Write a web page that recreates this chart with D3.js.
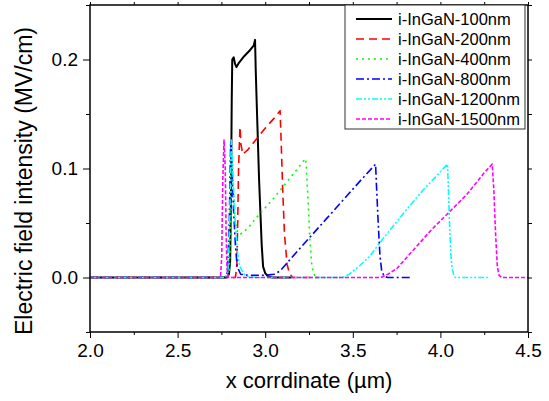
<!DOCTYPE html>
<html>
<head>
<meta charset="utf-8">
<script src="https://cdn.jsdelivr.net/npm/d3@7"></script>
<style>
    body { margin: 0; background: #fff; }
    text { font-family: "Liberation Sans", Arial, sans-serif; }
</style>
</head>
<body>
<div id="chart"></div>
<script>
// Series data, [x (um), E (MV/cm)]
const seriesNames = [
    "i-InGaN-100nm", "i-InGaN-200nm", "i-InGaN-400nm",
    "i-InGaN-800nm", "i-InGaN-1200nm", "i-InGaN-1500nm"
];

const e100 = [
    [2.0, 0], [2.78, 0], [2.793, 0.003], [2.8, 0.015], [2.805, 0.08], [2.809, 0.163],
    [2.812, 0.2], [2.82, 0.202], [2.828, 0.196], [2.836, 0.193], [2.85, 0.197],
    [2.88, 0.203], [2.91, 0.208], [2.935, 0.213], [2.942, 0.218], [2.946, 0.19],
    [2.951, 0.163], [2.965, 0.09], [2.98, 0.03], [2.988, 0.01], [3.0, 0.004],
    [3.016, 0.001], [3.04, 0], [3.15, 0]
];
const e200 = [
    [2.0, 0], [2.83, 0], [2.838, 0.01], [2.843, 0.05], [2.848, 0.1], [2.856, 0.138],
    [2.862, 0.122], [2.872, 0.113], [2.9, 0.117], [2.95, 0.127], [3.0, 0.137],
    [3.05, 0.146], [3.085, 0.153], [3.09, 0.13], [3.1, 0.08], [3.11, 0.04],
    [3.125, 0.012], [3.14, 0.003], [3.16, 0], [3.3, 0]
];
const e400 = [
    [2.0, 0], [2.78, 0], [2.795, 0.005], [2.803, 0.05], [2.81, 0.11], [2.815, 0.09],
    [2.822, 0.07], [2.83, 0.05], [2.845, 0.04], [2.86, 0.04], [2.9, 0.045],
    [2.95, 0.055], [3.0, 0.064], [3.05, 0.073], [3.1, 0.083], [3.15, 0.093],
    [3.2, 0.103], [3.23, 0.109], [3.235, 0.1], [3.245, 0.07], [3.255, 0.035],
    [3.265, 0.013], [3.275, 0.004], [3.29, 0], [3.45, 0]
];
const e800 = [
    [2.0, 0], [2.77, 0], [2.785, 0.005], [2.795, 0.05], [2.803, 0.125], [2.81, 0.1],
    [2.82, 0.06], [2.83, 0.03], [2.84, 0.01], [2.86, 0.003], [2.9, 0.002], [3.0, 0.002],
    [3.05, 0.003], [3.085, 0.006], [3.15, 0.018], [3.25, 0.036], [3.35, 0.054],
    [3.45, 0.072], [3.55, 0.09], [3.63, 0.104], [3.635, 0.085], [3.645, 0.05],
    [3.655, 0.02], [3.665, 0.006], [3.68, 0.001], [3.7, 0], [3.84, 0]
];
const e1200 = [
    [2.0, 0], [2.77, 0], [2.787, 0.005], [2.797, 0.05], [2.806, 0.126], [2.815, 0.1],
    [2.825, 0.06], [2.84, 0.025], [2.855, 0.01], [2.88, 0.003], [2.9, 0.001], [2.95, 0],
    [3.44, 0], [3.48, 0.003], [3.54, 0.011], [3.6, 0.02], [3.65, 0.031], [3.7, 0.041],
    [3.8, 0.061], [3.9, 0.08], [4.0, 0.097], [4.04, 0.104], [4.045, 0.085],
    [4.052, 0.05], [4.06, 0.02], [4.066, 0.01], [4.075, 0.003], [4.085, 0], [4.28, 0]
];
const e1500 = [
    [2.0, 0], [2.745, 0], [2.752, 0.02], [2.758, 0.09], [2.765, 0.126], [2.772, 0.1],
    [2.777, 0.04], [2.782, 0.008], [2.79, 0], [3.66, 0], [3.7, 0.003], [3.75, 0.008],
    [3.8, 0.017], [3.85, 0.026], [3.9, 0.035], [3.95, 0.044], [4.0, 0.052],
    [4.05, 0.06], [4.1, 0.068], [4.15, 0.076], [4.2, 0.086], [4.25, 0.096],
    [4.296, 0.104], [4.305, 0.08], [4.315, 0.04], [4.325, 0.01], [4.335, 0.002],
    [4.35, 0], [4.5, 0]
];

const xTicks = [2.0, 2.5, 3.0, 3.5, 4.0, 4.5];
const yTicks = [0.0, 0.1, 0.2];

// Styles for each series (colour + dash)
const colors = ["#000000", "#ff0000", "#00ff00", "#0000ff", "#00ffff", "#ff00ff"];
const dashes = ["none", "8,5", "2,4", "8,3,2,3", "6,2,2,2,2,2", "4,2"];
const allSeries = [e100, e200, e400, e800, e1200, e1500];

// Plot area
const width = 549, height = 401;
const margin = { top: 5, right: 21, bottom: 69, left: 90 };
const plotW = width - margin.left - margin.right;
const plotH = height - margin.top - margin.bottom;

const svg = d3.select("#chart")
    .append("svg")
    .attr("width", width)
    .attr("height", height);

const x = d3.scaleLinear().domain([2.0, 4.5]).range([0, plotW]);
const y = d3.scaleLinear().domain([-0.05, 0.25]).range([plotH, 0]);

const g = svg.append("g")
    .attr("transform", `translate(${margin.left},${margin.top})`);

// Clip so nothing spills out of the frame
g.append("clipPath").attr("id", "clip")
    .append("rect").attr("width", plotW).attr("height", plotH);

// Axes: major ticks outward, minor ticks half way
const minorX = d3.range(2.25, 4.5, 0.5);
const minorY = [-0.05, 0.05, 0.15, 0.25];

function styleAxis(sel) {
    sel.select(".domain").remove();
    sel.selectAll("line").attr("stroke", "#000").attr("stroke-width", 1);
    sel.selectAll("text").style("font-size", "19px").attr("fill", "#000");
}

g.append("g")
    .attr("transform", `translate(0,${plotH})`)
    .call(d3.axisBottom(x).tickValues(xTicks).tickFormat(d3.format(".1f")).tickSize(6).tickPadding(6))
    .call(styleAxis);
g.append("g")
    .attr("transform", `translate(0,${plotH})`)
    .call(d3.axisBottom(x).tickValues(minorX).tickFormat("").tickSize(3))
    .call(styleAxis);

g.append("g")
    .call(d3.axisLeft(y).tickValues(yTicks).tickFormat(d3.format(".1f")).tickSize(7).tickPadding(5))
    .call(styleAxis);
g.append("g")
    .call(d3.axisLeft(y).tickValues(minorY).tickFormat("").tickSize(4))
    .call(styleAxis);

// Mirror ticks on top and right
g.append("g")
    .call(d3.axisTop(x).tickValues(xTicks.concat(minorX)).tickFormat("").tickSize(3))
    .call(styleAxis);
g.append("g")
    .attr("transform", `translate(${plotW},0)`)
    .call(d3.axisRight(y).tickValues(yTicks.concat(minorY)).tickFormat("").tickSize(4))
    .call(styleAxis);

// Lines
const line = d3.line()
    .x(d => x(d[0]))
    .y(d => y(d[1]));

g.append("g")
    .attr("clip-path", "url(#clip)")
    .selectAll("path")
    .data(allSeries)
    .enter()
    .append("path")
    .attr("d", line)
    .attr("fill", "none")
    .attr("stroke", (d, i) => colors[i])
    .attr("stroke-width", (d, i) => i === 0 ? 2 : 1.6)
    .attr("stroke-dasharray", (d, i) => dashes[i])
    .attr("stroke-linejoin", "round");

// Frame
g.append("rect")
    .attr("width", plotW)
    .attr("height", plotH)
    .attr("fill", "none")
    .attr("stroke", "#000")
    .attr("stroke-width", 1.5);

// Axis titles
svg.append("text")
    .attr("x", margin.left + plotW / 2)
    .attr("y", 388)
    .attr("text-anchor", "middle")
    .style("font-size", "22px")
    .text("x corrdinate (\u00b5m)");

svg.append("text")
    .attr("transform", "translate(32,181) rotate(-90)")
    .attr("text-anchor", "middle")
    .style("font-size", "23px")
    .text("Electric field intensity (MV/cm)");

// Legend
const legend = svg.append("g").attr("transform", "translate(345,5)");

legend.append("rect")
    .attr("width", 180)
    .attr("height", 124)
    .attr("fill", "#fff")
    .attr("stroke", "#333")
    .attr("stroke-width", 1);

const rows = legend.selectAll("g.row")
    .data(seriesNames)
    .enter()
    .append("g")
    .attr("class", "row")
    .attr("transform", (d, i) => `translate(0,${14 + i * 20})`);

rows.append("line")
    .attr("x1", 11).attr("x2", 47)
    .attr("stroke", (d, i) => colors[i])
    .attr("stroke-width", (d, i) => i === 0 ? 2 : 1.6)
    .attr("stroke-dasharray", (d, i) => dashes[i]);

rows.append("text")
    .attr("x", 53)
    .attr("dy", "0.35em")
    .style("font-size", "16.5px")
    .text(d => d);
</script>
</body>
</html>
